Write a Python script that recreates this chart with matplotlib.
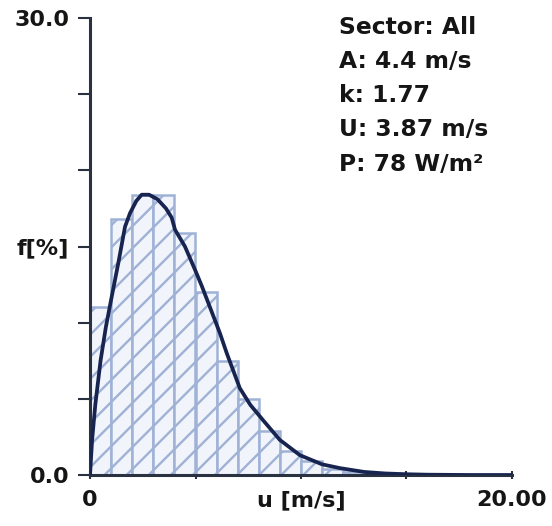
import matplotlib
matplotlib.use("Agg")
import matplotlib.pyplot as plt
from matplotlib.collections import LineCollection
import numpy as np

# ---- data ----
bin_left = [0, 1, 2, 3, 4, 5, 6, 7, 8, 9, 10, 11, 12, 13, 14, 15]
bin_freq = [11.0, 16.8, 18.4, 18.4, 15.9, 12.0, 7.5, 5.0, 2.9, 1.6, 0.9, 0.4, 0.2, 0.1, 0.05, 0.03]

curve_u = [0, 0.1, 0.25, 0.5, 0.75, 1.0, 1.34, 1.66, 1.9, 2.2, 2.45, 2.8, 3.2, 3.6, 3.87,
           4.03, 4.5, 5.0, 5.3, 5.8, 6.16, 6.48, 7.1, 7.6, 8.2, 9.0, 9.95, 11.0, 11.85,
           13.0, 14.0, 15.0, 16.0, 17.0, 18.0, 20.0]
curve_f = [0, 2.3, 4.6, 7.5, 9.7, 11.5, 13.9, 16.3, 17.2, 18.0, 18.4, 18.4, 18.1, 17.5, 16.9,
           16.1, 15.0, 13.4, 12.4, 10.6, 9.3, 8.0, 5.7, 4.6, 3.6, 2.3, 1.3, 0.7, 0.45,
           0.2, 0.1, 0.05, 0.02, 0.01, 0.0, 0.0]

x_ticks = [0, 5, 10, 15, 20]
x_ticklabels = ["0", "", "u [m/s]", "", "20.00"]
y_ticks = [0, 5, 10, 15, 20, 25, 30]
y_ticklabels = ["0.0", "", "", "f[%]", "", "", "30.0"]

info_lines = ["Sector: All", "A: 4.4 m/s", "k: 1.77", "U: 3.87 m/s", "P: 78 W/m\u00b2"]

# ---- figure ----
plt.rcParams["font.family"] = ["DejaVu Sans"]

fig = plt.figure(figsize=(5.52, 5.26), dpi=100)
ax = fig.add_axes([90 / 552, 51 / 526, 422 / 552, 457 / 526])
ax.set_xlim(0, 20)
ax.set_ylim(0, 30)

edge_col = "#9fb2d6"
bars = ax.bar(bin_left, bin_freq, width=1.0, align="edge", color="#f1f4fb",
              edgecolor=edge_col, linewidth=1.8, zorder=2)

# diagonal hatching (style only), clipped to each bar
slope = (422 / 20) / (457 / 30)      # 45 degrees on screen
step = 1.45                          # vertical spacing in axis units
segs = []
for c in np.arange(-30 * slope, 32, step):
    segs.append([(0, c), (20, c + 20 * slope)])
for p in bars.patches:
    lc = LineCollection(segs, colors=edge_col, linewidths=1.7, zorder=2.2)
    ax.add_collection(lc)
    lc.set_clip_path(p)

ax.plot(curve_u, curve_f, color="#17244f", linewidth=2.7, zorder=3,
        solid_capstyle="round", solid_joinstyle="round")

for s in ["top", "right"]:
    ax.spines[s].set_visible(False)
for s in ["left", "bottom"]:
    ax.spines[s].set_color("#2a3140")
    ax.spines[s].set_linewidth(2.2)

ax.set_xticks(x_ticks)
ax.set_xticklabels(x_ticklabels)
ax.set_yticks(y_ticks)
ax.set_yticklabels(y_ticklabels)
ax.tick_params(axis="y", direction="out", length=9, width=1.5, color="#2a3140",
               labelsize=16, pad=6, labelcolor="#151515")
ax.tick_params(axis="x", direction="inout", length=6, width=1.5, color="#2a3140",
               labelsize=16, pad=8, labelcolor="#151515")
for lbl in ax.get_xticklabels() + ax.get_yticklabels():
    lbl.set_fontweight("bold")

ax.text(339 / 552, 1 - 16 / 526, "\n".join(info_lines), transform=fig.transFigure,
        ha="left", va="top", fontsize=16.8, fontweight="bold", color="#151515",
        linespacing=1.62)

fig.savefig("out.png", dpi=100, facecolor="white")
